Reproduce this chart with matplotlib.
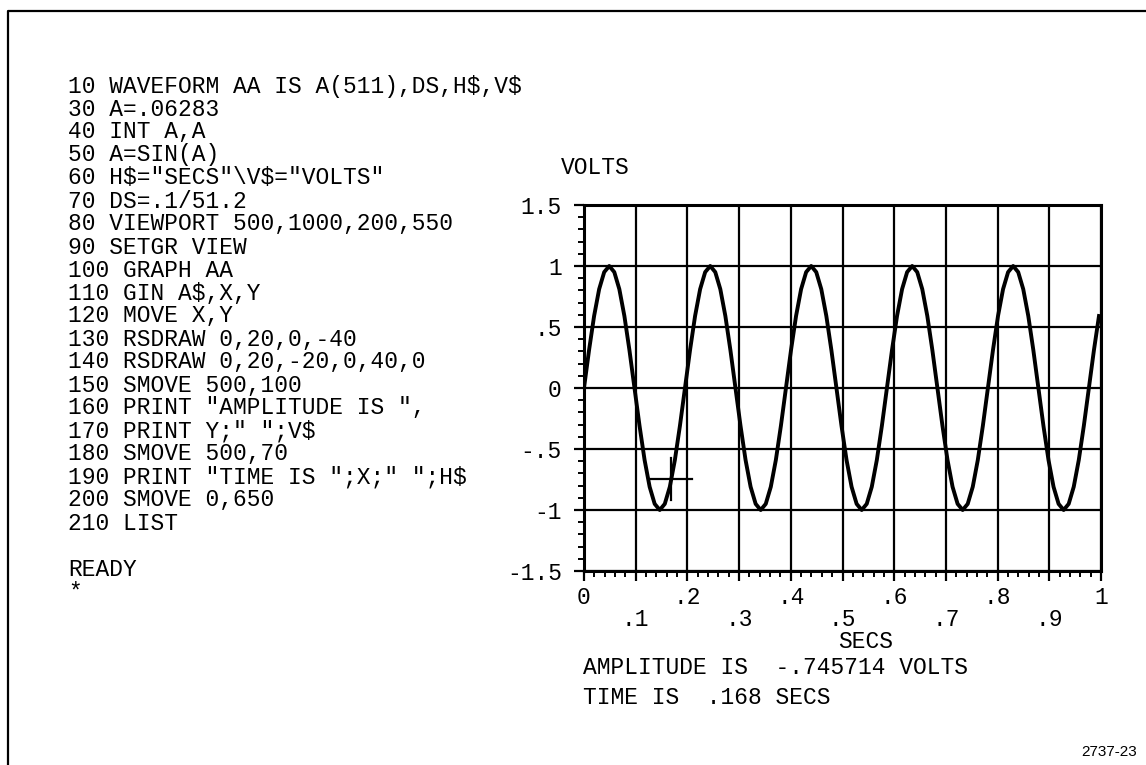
import numpy as np
import matplotlib
matplotlib.use("Agg")
import matplotlib.pyplot as plt
from matplotlib.ticker import MultipleLocator

W, H = 1146, 765

# BASIC program listing on the terminal screen
listing = [
    '10 WAVEFORM AA IS A(511),DS,H$,V$',
    '30 A=.06283',
    '40 INT A,A',
    '50 A=SIN(A)',
    '60 H$="SECS"\\V$="VOLTS"',
    '70 DS=.1/51.2',
    '80 VIEWPORT 500,1000,200,550',
    '90 SETGR VIEW',
    '100 GRAPH AA',
    '110 GIN A$,X,Y',
    '120 MOVE X,Y',
    '130 RSDRAW 0,20,0,-40',
    '140 RSDRAW 0,20,-20,0,40,0',
    '150 SMOVE 500,100',
    '160 PRINT "AMPLITUDE IS ",',
    '170 PRINT Y;" ";V$',
    '180 SMOVE 500,70',
    '190 PRINT "TIME IS ";X;" ";H$',
    '200 SMOVE 0,650',
    '210 LIST',
    '',
    'READY',
    '*',
]

# waveform AA, every 5th point of the 512 point record (volts)
volts = [
    0, .31, .59, .81, .95, 1, .95, .81, .59, .31,
    0, -.31, -.59, -.81, -.95, -1, -.95, -.81, -.59, -.31,
    0, .31, .59, .81, .95, 1, .95, .81, .59, .31,
    0, -.31, -.59, -.81, -.95, -1, -.95, -.81, -.59, -.31,
    0, .31, .59, .81, .95, 1, .95, .81, .59, .31,
    0, -.31, -.59, -.81, -.95, -1, -.95, -.81, -.59, -.31,
    0, .31, .59, .81, .95, 1, .95, .81, .59, .31,
    0, -.31, -.59, -.81, -.95, -1, -.95, -.81, -.59, -.31,
    0, .31, .59, .81, .95, 1, .95, .81, .59, .31,
    0, -.31, -.59, -.81, -.95, -1, -.95, -.81, -.59, -.31,
    0, .31, .59,
]
dt = 5 * 0.1 / 51.2   # DS, times 5

x_ticks = [0, .1, .2, .3, .4, .5, .6, .7, .8, .9, 1]
x_labels = ['0', '.1', '.2', '.3', '.4', '.5', '.6', '.7', '.8', '.9', '1']
y_ticks = [-1.5, -1, -.5, 0, .5, 1, 1.5]
y_labels = ['-1.5', '-1', '-.5', '0', '.5', '1', '1.5']

# GIN cursor reading
cursor_t = 0.168
cursor_v = -0.745714
arm_t = 20 / 500 * 1.0   # 20 GDU of the 500 GDU wide viewport
arm_v = 20 / 350 * 3.0   # 20 GDU of the 350 GDU high viewport

MONO = ['Liberation Mono', 'DejaVu Sans Mono']
FS = 16.5

fig = plt.figure(figsize=(W / 100, H / 100), dpi=100)


def put(x, y, s, **kw):
    # place text by pixel position (from top left)
    kw.setdefault('family', MONO)
    kw.setdefault('fontsize', FS)
    kw.setdefault('va', 'center')
    fig.text(x / W, 1 - y / H, s, parse_math=False, **kw)


# page border (top and left edges)
fig.add_artist(plt.Line2D([8 / W, 8 / W, 1], [0, 1 - 11 / H, 1 - 11 / H],
                          transform=fig.transFigure, color='black', lw=1.6))

for i, line in enumerate(listing):
    put(68, 86 + 23 * i, line)

ax = fig.add_axes([584 / W, 1 - 571 / H, 517 / W, 366 / H])
t = np.arange(len(volts)) * dt
ax.plot(t, volts, color='black', lw=2.8, solid_joinstyle='round')

# crosshair drawn at the GIN position
ax.plot([cursor_t, cursor_t], [cursor_v - arm_v, cursor_v + arm_v], color='black', lw=1.6)
ax.plot([cursor_t - arm_t, cursor_t + arm_t], [cursor_v, cursor_v], color='black', lw=1.6)

ax.set_xlim(0, 1)
ax.set_ylim(-1.5, 1.5)
ax.set_xticks(x_ticks)
ax.set_xticklabels([s if i % 2 == 0 else '\n' + s for i, s in enumerate(x_labels)])
ax.set_yticks(y_ticks)
ax.set_yticklabels(y_labels)
ax.xaxis.set_minor_locator(MultipleLocator(0.02))
ax.yaxis.set_minor_locator(MultipleLocator(0.1))
ax.tick_params(which='major', direction='out', length=7, width=1.6, color='black')
ax.tick_params(which='minor', direction='out', length=4, width=1.4, color='black')
ax.tick_params(axis='x', which='major', pad=4)
ax.tick_params(axis='y', which='major', pad=9)
for lab in ax.get_xticklabels() + ax.get_yticklabels():
    lab.set_family(MONO)
    lab.set_fontsize(FS)
    lab.set_linespacing(0.95)
ax.grid(True, which='major', color='black', lw=1.6)
for sp in ax.spines.values():
    sp.set_linewidth(2.2)

put(595, 167, 'VOLTS', ha='center')
put(866, 641, 'SECS', ha='center')
put(583, 668, 'AMPLITUDE IS  ' + ('%f' % cursor_v).replace('0.', '.') + ' VOLTS')
put(583, 698, 'TIME IS  ' + ('%g' % cursor_t).replace('0.', '.') + ' SECS')
put(1137, 752, '2737-23', family=['Liberation Sans', 'DejaVu Sans'], fontsize=11, ha='right')

fig.savefig('out.png', dpi=100)
